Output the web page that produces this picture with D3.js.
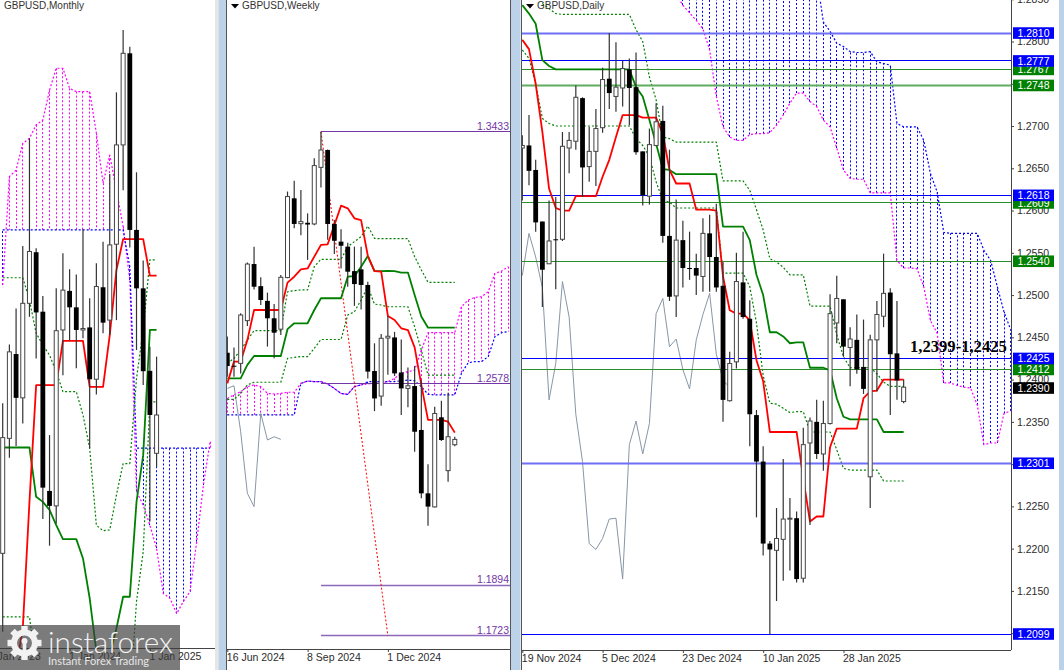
<!DOCTYPE html>
<html>
<head>
<meta charset="utf-8">
<script src="https://d3js.org/d3.v7.min.js"></script>
<style>
  html, body { margin: 0; padding: 0; background: #fff; }
  svg { display: block; }
  text { font-family: "Liberation Sans", Arial, sans-serif; }
</style>
</head>
<body>
<svg id="chart" width="1064" height="670"></svg>
<script>
// open, high, low, close per bar
var monthlyBars = [
  [1.2016,1.2427,1.1801,1.2333],[1.2331,1.2588,1.2278,1.2568],[1.2562,1.2687,1.2310,1.2442],[1.2442,1.2858,1.2372,1.2701],
  [1.2701,1.3153,1.2664,1.2843],[1.2841,1.2852,1.2550,1.2676],[1.2678,1.2721,1.2110,1.2196],[1.2187,1.2340,1.2037,1.2146],
  [1.2146,1.2742,1.2098,1.2626],[1.2628,1.2838,1.2504,1.2737],[1.2735,1.2794,1.2600,1.2690],[1.2690,1.2780,1.2523,1.2628],
  [1.2628,1.2904,1.2605,1.2632],[1.2635,1.2715,1.2304,1.2493],[1.2493,1.2811,1.2451,1.2747],[1.2745,1.2870,1.2619,1.2648],
  [1.2655,1.3055,1.2614,1.2861],[1.2863,1.3279,1.2655,1.3135],[1.3135,1.3450,1.3011,1.3386],[1.3386,1.3404,1.2854,1.2902],
  [1.2902,1.3060,1.2573,1.2742],[1.2742,1.2818,1.2477,1.2515],[1.2516,1.2582,1.2103,1.2395],[1.2290,1.2555,1.2253,1.2395]
];
var monthlyTenkan = [null,null,1.1701,1.1810,1.2157,1.2477,1.2477,1.2477,1.2477,1.2598,1.2598,1.2598,1.2598,1.2472,1.2472,1.2472,1.2614,1.2792,1.2877,1.2877,1.2877,1.2877,1.2777,1.2777];
var monthlyKijun = [1.2306,1.2306,1.2306,1.2306,1.2306,1.2171,1.2157,1.2135,1.2093,1.2055,1.2055,1.2055,1.2002,1.1893,1.1747,1.1692,1.1737,1.1810,1.1897,1.1897,1.2157,1.2285,1.2628,1.2628];
var monthlyDashA = [1.2771,1.2771,1.2771,1.2771,1.2710,1.2619,1.2587,1.2559,1.2514,1.2459,1.2459,1.2459,1.2395,1.2304,1.2093,1.2078,1.2080,1.2176,1.2262,1.2262,1.2495,1.2628,1.2820,1.2820];
var monthlyDashB = [1.1842,1.1842,1.1842,1.1842,1.1842,1.1700,null,null,null,null,null,null,null,null,null,null,null,null,null,1.1610,1.1884,1.2020,1.2431,1.2431];
var monthlyCloudA = [1.2751,1.3048,1.3066,1.3139,1.3153,1.3190,1.3203,1.3285,1.3345,1.3345,1.3290,1.3281,1.3281,1.3281,1.3167,1.3030,1.3107,1.3011,1.2911,1.2765,1.2185,1.2148,1.2093,1.2030,1.1906,1.1893,1.1851,1.1884,1.1911,1.2048,1.2203,1.2322];
var monthlyCloudB = [1.2902,1.2902,1.2902,1.2902,1.2902,1.2902,1.2902,1.2902,1.2902,1.2902,1.2902,1.2902,1.2902,1.2902,1.2902,1.2902,1.2902,1.2902,1.2902,1.2801,1.2304,1.2304,1.2304,1.2304,1.2304,1.2304,1.2304,1.2304,1.2304,1.2304,1.2304,1.2304];
var monthlyTicks = [-2, 10, 22];
var monthlyTickLabels = ["1 Jan 2023", "1 Jan 2024", "1 Jan 2025"];

var weeklyBars = [
  [1.2683,1.2738,1.2602,1.2638],[1.2639,1.2701,1.2602,1.2636],[1.2647,1.2817,1.2613,1.2811],[1.2792,1.2989,1.2774,1.2984],
  [1.2984,1.3043,1.2898,1.2907],[1.2909,1.2939,1.2845,1.2862],[1.2859,1.2887,1.2704,1.2800],[1.2800,1.2848,1.2664,1.2751],
  [1.2763,1.2947,1.2743,1.2939],[1.2938,1.3230,1.2936,1.3213],[1.3207,1.3267,1.3105,1.3120],[1.3121,1.3235,1.3082,1.3128],
  [1.3124,1.3156,1.2998,1.3118],[1.3120,1.3343,1.3116,1.3318],[1.3312,1.3433,1.3244,1.3371],[1.3371,1.3373,1.3066,1.3120],
  [1.3120,1.3133,1.3018,1.3063],[1.3060,1.3102,1.2969,1.3046],[1.3043,1.3056,1.2907,1.2958],[1.2960,1.3043,1.2842,1.2916],
  [1.2966,1.3043,1.2830,1.2913],[1.2913,1.2924,1.2596,1.2619],[1.2621,1.2715,1.2485,1.2528],[1.2536,1.2747,1.2503,1.2732],
  [1.2733,1.2808,1.2608,1.2739],[1.2735,1.2754,1.2604,1.2613],[1.2616,1.2728,1.2472,1.2562],[1.2562,1.2633,1.2498,1.2571],
  [1.2570,1.2638,1.2347,1.2415],[1.2421,1.2590,1.2189,1.2206],[1.2206,1.2305,1.2096,1.2161],[1.2160,1.2500,1.2158,1.2477],
  [1.2464,1.2520,1.2384,1.2387],[1.2283,1.2547,1.2245,1.2398],[1.2371,1.2398,1.2366,1.2389]
];
var weeklyTenkan = [1.2579,1.2653,1.2653,1.2726,1.2828,1.2828,1.2828,1.2828,1.2828,1.2921,1.2941,1.2966,1.2969,1.3009,1.3049,1.3051,1.3116,1.3182,1.3173,1.3139,1.3133,1.3012,1.2960,1.2958,1.2808,1.2794,1.2766,1.2760,1.2701,1.2574,1.2455,1.2455,1.2455,1.2449,1.2412];
var weeklyKijun = [1.2596,1.2596,1.2596,1.2642,1.2672,1.2672,1.2672,1.2672,1.2672,1.2763,1.2783,1.2783,1.2783,1.2828,1.2868,1.2868,1.2868,1.2868,1.2941,1.2943,1.2975,1.3011,1.2960,1.2960,1.2961,1.2960,1.2955,1.2955,1.2879,1.2806,1.2768,1.2768,1.2768,1.2768,1.2768];
var weeklyDashA = [1.2647,1.2664,1.2692,1.2726,1.2758,1.2758,1.2758,1.2758,1.2758,1.2890,1.2894,1.2896,1.2896,1.2975,1.3000,1.3000,1.3000,1.3000,1.3043,1.3060,1.3077,1.3113,1.3071,1.3070,1.3070,1.3070,1.3070,1.3070,1.3009,1.2964,1.2922,1.2922,1.2922,1.2922,1.2922];
var weeklyDashB = [1.2525,1.2525,1.2545,1.2574,1.2583,1.2583,1.2583,1.2583,1.2583,1.2664,1.2667,1.2670,1.2670,1.2698,1.2728,1.2728,1.2728,1.2728,1.2811,1.2822,1.2862,1.2907,1.2848,1.2845,1.2839,1.2839,1.2839,1.2839,1.2771,1.2692,1.2607,1.2607,1.2607,1.2607,1.2607];
var weeklyCloudA = [1.2528,1.2540,1.2551,1.2568,1.2574,1.2568,1.2545,1.2543,1.2545,1.2549,1.2549,1.2579,1.2587,1.2585,1.2585,1.2577,1.2562,1.2545,1.2542,1.2568,1.2574,1.2577,1.2579,1.2581,1.2585,1.2596,1.2613,1.2619,1.2624,1.2692,1.2751,1.2751,1.2751,1.2751,1.2751,1.2839,1.2862,1.2871,1.2873,1.2890,1.2952,1.2960,1.2975];
var weeklyCloudB = [1.2472,1.2472,1.2472,1.2472,1.2472,1.2472,1.2472,1.2472,1.2472,1.2472,1.2472,1.2579,1.2587,1.2585,1.2585,1.2577,1.2562,1.2545,1.2542,1.2568,1.2574,1.2585,1.2585,1.2585,1.2585,1.2585,1.2588,1.2590,1.2588,1.2568,1.2542,1.2540,1.2540,1.2540,1.2540,1.2613,1.2649,1.2653,1.2653,1.2670,1.2738,1.2751,1.2755];
var weeklyLevels = [1.3433, 1.2578, 1.1894, 1.1723];
var weeklyDrop = [1.3433, 1.1723];
var weeklyTicks = [0, 12, 24];
var weeklyTickLabels = ["16 Jun 2024", "8 Sep 2024", "1 Dec 2024"];

var dailyBars = [
  [1.2674,1.2689,1.2612,1.2677],[1.2677,1.2713,1.2630,1.2647],[1.2648,1.2660,1.2575,1.2586],[1.2587,1.2587,1.2486,1.2530],
  [1.2537,1.2612,1.2537,1.2564],[1.2566,1.2616,1.2507,1.2565],[1.2566,1.2693,1.2564,1.2676],[1.2674,1.2693,1.2644,1.2683],
  [1.2682,1.2748,1.2672,1.2734],[1.2733,1.2734,1.2616,1.2651],[1.2652,1.2699,1.2634,1.2670],[1.2670,1.2720,1.2629,1.2697],
  [1.2698,1.2769,1.2692,1.2755],[1.2756,1.2810,1.2720,1.2739],[1.2735,1.2799,1.2717,1.2746],[1.2745,1.2777,1.2723,1.2768],
  [1.2767,1.2780,1.2701,1.2745],[1.2746,1.2787,1.2666,1.2669],[1.2670,1.2670,1.2606,1.2618],[1.2617,1.2697,1.2607,1.2678],
  [1.2677,1.2727,1.2676,1.2705],[1.2706,1.2724,1.2562,1.2570],[1.2570,1.2672,1.2493,1.2498],[1.2499,1.2613,1.2474,1.2565],
  [1.2565,1.2588,1.2509,1.2532],[1.2532,1.2575,1.2518,1.2531],[1.2532,1.2549,1.2500,1.2523],[1.2522,1.2591,1.2504,1.2573],
  [1.2573,1.2595,1.2504,1.2545],[1.2545,1.2608,1.2504,1.2509],[1.2511,1.2539,1.2350,1.2376],[1.2375,1.2433,1.2374,1.2419],
  [1.2421,1.2550,1.2413,1.2516],[1.2515,1.2575,1.2472,1.2474],[1.2472,1.2494,1.2321,1.2359],[1.2358,1.2364,1.2237,1.2303],
  [1.2303,1.2321,1.2192,1.2206],[1.2206,1.2209,1.2099,1.2199],[1.2198,1.2248,1.2138,1.2212],[1.2211,1.2306,1.2162,1.2235],
  [1.2236,1.2260,1.2174,1.2236],[1.2236,1.2244,1.2160,1.2164],[1.2165,1.2343,1.2160,1.2323],[1.2325,1.2355,1.2228,1.2351],
  [1.2350,1.2376,1.2306,1.2312],[1.2312,1.2375,1.2292,1.2348],[1.2348,1.2501,1.2347,1.2478],[1.2467,1.2523,1.2443,1.2496],
  [1.2495,1.2495,1.2427,1.2439],[1.2438,1.2462,1.2392,1.2448],[1.2447,1.2477,1.2407,1.2412],[1.2415,1.2471,1.2383,1.2389],
  [1.2285,1.2453,1.2248,1.2447],[1.2447,1.2493,1.2386,1.2477],[1.2475,1.2549,1.2462,1.2502],[1.2503,1.2508,1.2358,1.2430],
  [1.2431,1.2493,1.2376,1.2399],[1.2374,1.2400,1.2372,1.2391]
];
var dailyTenkan = [1.2802,1.2791,1.2750,1.2693,1.2626,1.2603,1.2600,1.2600,1.2617,1.2617,1.2617,1.2617,1.2640,1.2660,1.2687,1.2713,1.2713,1.2713,1.2710,1.2710,1.2710,1.2691,1.2648,1.2632,1.2632,1.2632,1.2601,1.2601,1.2601,1.2600,1.2522,1.2482,1.2478,1.2478,1.2470,1.2423,1.2398,1.2338,1.2338,1.2338,1.2338,1.2338,1.2283,1.2232,1.2238,1.2238,1.2320,1.2342,1.2342,1.2342,1.2342,1.2378,1.2386,1.2387,1.2400,1.2400,1.2400,1.2400];
var dailyKijun = [1.2843,1.2833,1.2821,1.2778,1.2771,1.2767,1.2767,1.2767,1.2767,1.2767,1.2767,1.2767,1.2767,1.2767,1.2767,1.2767,1.2767,1.2746,1.2735,1.2707,1.2679,1.2649,1.2648,1.2643,1.2643,1.2643,1.2643,1.2643,1.2643,1.2643,1.2581,1.2581,1.2581,1.2581,1.2565,1.2524,1.2500,1.2456,1.2456,1.2451,1.2443,1.2444,1.2444,1.2414,1.2414,1.2414,1.2411,1.2378,1.2356,1.2353,1.2353,1.2353,1.2353,1.2353,1.2338,1.2338,1.2338,1.2338];
var dailyDashA = [null,null,null,1.2845,1.2839,1.2833,1.2832,1.2832,1.2832,1.2832,1.2832,1.2832,1.2832,1.2832,1.2832,1.2832,1.2832,1.2814,1.2800,1.2758,1.2731,1.2687,1.2685,1.2681,1.2681,1.2681,1.2681,1.2681,1.2681,1.2681,1.2635,1.2635,1.2635,1.2635,1.2624,1.2601,1.2577,1.2543,1.2539,1.2533,1.2524,1.2524,1.2524,1.2487,1.2487,1.2487,1.2487,1.2453,1.2427,1.2414,1.2414,1.2414,1.2414,1.2407,1.2397,1.2392,1.2392,1.2392];
var dailyDashB = [1.2790,1.2780,1.2750,1.2709,1.2703,1.2700,1.2700,1.2700,1.2700,1.2700,1.2700,1.2700,1.2700,1.2700,1.2700,1.2700,1.2700,1.2685,1.2677,1.2664,1.2634,1.2612,1.2610,1.2603,1.2603,1.2603,1.2603,1.2603,1.2603,1.2603,1.2526,1.2526,1.2526,1.2526,1.2510,1.2467,1.2405,1.2372,1.2371,1.2366,1.2361,1.2362,1.2362,1.2338,1.2338,1.2338,1.2338,1.2317,1.2295,1.2293,1.2293,1.2293,1.2293,1.2293,1.2280,1.2280,1.2280,1.2280];
var dailyCloudA = [null,null,null,null,null,null,null,null,null,null,null,null,null,null,null,null,null,null,null,null,null,null,null,1.2855,1.2843,1.2834,1.2825,1.2815,1.2790,1.2735,1.2699,1.2687,1.2683,1.2683,1.2690,1.2691,1.2691,1.2692,1.2701,1.2713,1.2727,1.2739,1.2739,1.2729,1.2723,1.2707,1.2699,1.2674,1.2648,1.2638,1.2637,1.2637,1.2621,1.2621,1.2621,1.2621,1.2541,1.2532,1.2532,1.2531,1.2510,1.2470,1.2455,1.2396,1.2396,1.2393,1.2391,1.2390,1.2370,1.2323,1.2325,1.2325,1.2360,1.2363];
var dailyCloudB = [null,null,null,null,null,null,null,null,null,null,null,null,null,null,null,null,null,null,null,null,null,null,null,1.2900,1.2900,1.2900,1.2900,1.2900,1.2900,1.2900,1.2900,1.2900,1.2900,1.2900,1.2900,1.2900,1.2900,1.2900,1.2900,1.2900,1.2900,1.2900,1.2900,1.2900,1.2877,1.2823,1.2812,1.2798,1.2794,1.2788,1.2787,1.2787,1.2788,1.2776,1.2774,1.2772,1.2703,1.2699,1.2699,1.2699,1.2683,1.2644,1.2622,1.2574,1.2573,1.2573,1.2573,1.2573,1.2573,1.2553,1.2541,1.2510,1.2480,1.2459];
var dailyBlueLevels = [1.2810, 1.2777, 1.2618, 1.2425, 1.2301, 1.2099];
var dailyThickLevels = [1.2810, 1.2748, 1.2301];
var dailyGreenLevels = [1.2767, 1.2748, 1.2609, 1.2540, 1.2412];
var dailyPriceLabel = 1.2390;
var dailyPriceTicks = [1.2850,1.2800,1.2750,1.2700,1.2650,1.2600,1.2550,1.2500,1.2450,1.2400,1.2350,1.2300,1.2250,1.2200,1.2150,1.2100];
var dailyTicks = [0, 12, 24, 36, 48];
var dailyTickLabels = ["19 Nov 2024", "5 Dec 2024", "23 Dec 2024", "10 Jan 2025", "28 Jan 2025"];

var svg = d3.select("#chart");

var colorRed = "#ff0000",
    colorGreen = "#008000",
    colorBlue = "#0000ff",
    colorMagenta = "#ff00ff",
    colorGray = "#8896a6",
    colorPurple = "#7236a6",
    colorFrame = "#bcd2e8",
    colorText = "#2c2c2c";

// panel scales, bar index on x and price on y
var monthlyX = d3.scaleLinear().domain([0, 31]).range([2.7, 210.1]);
var monthlyY = d3.scaleLinear().domain([1.3532, 1.2395]).range([0, 415]);
var weeklyX = d3.scaleLinear().domain([0, 42]).range([227.3, 508.3]);
var weeklyY = d3.scaleLinear().domain([1.3433, 1.1723]).range([131.7, 635.7]);
var dailyX = d3.scaleLinear().domain([0, 73]).range([522.3, 1010.7]);
var dailyY = d3.scaleLinear().domain([1.28, 1.2099]).range([41.5, 634]);

// keep thin straight lines on a pixel so they stay crisp
function crisp(v){
  return Math.round(v - 0.5) + 0.5;
}

function addPanel(id, left, right, bottom){
  svg.append("clipPath").attr("id", id)
    .append("rect").attr("x", left).attr("y", 0).attr("width", right - left).attr("height", bottom);
  return svg.append("g").attr("clip-path", "url(#" + id + ")");
}

function drawSeries(g, values, x, y, color, width, dash){
  var line = d3.line()
    .defined(function(d){ return d !== null; })
    .x(function(d, i){ return x(i); })
    .y(function(d){ return y(d); });
  g.append("path")
    .attr("fill", "none")
    .attr("stroke", color)
    .attr("stroke-width", width)
    .attr("stroke-dasharray", dash || null)
    .attr("stroke-linejoin", "round")
    .attr("d", line(values));
}

function drawCloud(g, a, b, x, y){
  a.forEach(function(d, i){
    if (d === null || b[i] === null) return;
    g.append("line")
      .attr("x1", crisp(x(i))).attr("x2", crisp(x(i)))
      .attr("y1", y(d)).attr("y2", y(b[i]))
      .attr("stroke", d > b[i] ? colorMagenta : colorBlue)
      .attr("stroke-width", 1)
      .attr("stroke-dasharray", "2 2");
  });
  drawSeries(g, a, x, y, colorMagenta, 1.2, "2 2");
  drawSeries(g, b, x, y, colorBlue, 1.2, "2 2");
}

function drawCandles(g, bars, x, y){
  var candle = g.selectAll("g.candle").data(bars).enter().append("g").attr("class", "candle");
  candle.append("line")
    .attr("x1", function(d, i){ return x(i); })
    .attr("x2", function(d, i){ return x(i); })
    .attr("y1", function(d){ return y(d[1]); })
    .attr("y2", function(d){ return y(d[2]); })
    .attr("stroke", "#333")
    .attr("stroke-width", 1.2);
  candle.append("rect")
    .attr("x", function(d, i){ return x(i) - (d[3] >= d[0] ? 2 : 2.4); })
    .attr("width", function(d){ return d[3] >= d[0] ? 4 : 4.8; })
    .attr("y", function(d){ return y(Math.max(d[0], d[3])); })
    .attr("height", function(d){ return Math.max(1, Math.abs(y(d[0]) - y(d[3]))); })
    .attr("fill", function(d){ return d[3] >= d[0] ? "#fff" : "#000"; })
    .attr("stroke", function(d){ return d[3] >= d[0] ? "#444" : "none"; })
    .attr("stroke-width", 1);
}

function drawTimeAxis(x, axisY, left, right, ticks, labels){
  svg.append("line")
    .attr("x1", left).attr("x2", right).attr("y1", axisY + 0.5).attr("y2", axisY + 0.5)
    .attr("stroke", "#444").attr("stroke-width", 1);
  var axis = d3.axisBottom(x)
    .tickValues(ticks)
    .tickSizeOuter(0)
    .tickSize(3)
    .tickFormat(function(d, i){ return labels[i]; });
  var g = svg.append("g")
    .attr("transform", "translate(0," + axisY + ")")
    .call(axis);
  g.select(".domain").remove();
  g.selectAll("line").attr("stroke", "#444");
  g.selectAll("text")
    .attr("text-anchor", "start")
    .attr("x", -1)
    .attr("y", 5)
    .attr("font-family", "Liberation Sans")
    .attr("font-size", 10.5)
    .attr("fill", colorText);
}

function drawTitle(label, textX, triangle){
  svg.append("text")
    .attr("x", textX).attr("y", 9)
    .attr("font-size", 10)
    .attr("fill", "#333")
    .text(label);
  if (triangle){
    svg.append("path")
      .attr("d", "M" + (textX - 11) + " 4 h8 l-4 4.5 z")
      .attr("fill", "#000");
  }
}

// monthly
var monthly = addPanel("clip-monthly", 0, 215, 648);
drawCloud(monthly, monthlyCloudA, monthlyCloudB, monthlyX, monthlyY);
drawSeries(monthly, monthlyDashA, monthlyX, monthlyY, colorGreen, 1.2, "2 2");
drawSeries(monthly, monthlyDashB, monthlyX, monthlyY, colorGreen, 1.2, "2 2");
drawSeries(monthly, monthlyKijun, monthlyX, monthlyY, colorGreen, 1.8);
drawSeries(monthly, monthlyTenkan, monthlyX, monthlyY, colorRed, 1.8);
drawCandles(monthly, monthlyBars, monthlyX, monthlyY);

// weekly
var weekly = addPanel("clip-weekly", 227, 510, 649);
drawCloud(weekly, weeklyCloudA, weeklyCloudB, weeklyX, weeklyY);
drawSeries(weekly, weeklyBars.slice(26).map(function(d){ return d[3]; }), weeklyX, weeklyY, colorGray, 1);
drawSeries(weekly, weeklyDashA, weeklyX, weeklyY, colorGreen, 1.2, "2 2");
drawSeries(weekly, weeklyDashB, weeklyX, weeklyY, colorGreen, 1.2, "2 2");
weeklyLevels.forEach(function(d, i){
  weekly.append("line")
    .attr("x1", weeklyX(14)).attr("x2", 510)
    .attr("y1", crisp(weeklyY(d))).attr("y2", crisp(weeklyY(d)))
    .attr("stroke", i < 2 ? colorPurple : "#8d68bb")
    .attr("stroke-width", i < 2 ? 1 : 1.6);
  weekly.append("text")
    .attr("x", 509).attr("y", weeklyY(d) - 2)
    .attr("text-anchor", "end")
    .attr("font-size", 10.5)
    .attr("fill", colorPurple)
    .text(d3.format(".4f")(d));
});
weekly.append("line")
  .attr("x1", weeklyX(14)).attr("x2", weeklyX(24))
  .attr("y1", weeklyY(weeklyDrop[0])).attr("y2", weeklyY(weeklyDrop[1]))
  .attr("stroke", colorRed).attr("stroke-width", 1).attr("stroke-dasharray", "2 2");
drawSeries(weekly, weeklyKijun, weeklyX, weeklyY, colorGreen, 1.8);
drawSeries(weekly, weeklyTenkan, weeklyX, weeklyY, colorRed, 1.8);
drawCandles(weekly, weeklyBars, weeklyX, weeklyY);

// daily
var daily = addPanel("clip-daily", 522, 1011, 650);
drawCloud(daily, dailyCloudA, dailyCloudB, dailyX, dailyY);
drawSeries(daily, dailyBars.slice(26).map(function(d){ return d[3]; }), dailyX, dailyY, colorGray, 1);
drawSeries(daily, dailyDashA, dailyX, dailyY, colorGreen, 1.2, "2 2");
drawSeries(daily, dailyDashB, dailyX, dailyY, colorGreen, 1.2, "2 2");
dailyGreenLevels.concat(dailyBlueLevels).forEach(function(d){
  var thick = dailyThickLevels.indexOf(d) >= 0;
  var blue = dailyBlueLevels.indexOf(d) >= 0;
  daily.append("line")
    .attr("x1", 522).attr("x2", 1011)
    .attr("y1", crisp(dailyY(d))).attr("y2", crisp(dailyY(d)))
    .attr("stroke", blue ? (thick ? "#6f6ff5" : colorBlue) : (thick ? "#5fae5f" : "#2a8f2a"))
    .attr("stroke-width", thick ? 1.8 : 1);
});
drawSeries(daily, dailyKijun, dailyX, dailyY, colorGreen, 1.8);
drawSeries(daily, dailyTenkan, dailyX, dailyY, colorRed, 1.8);
drawCandles(daily, dailyBars, dailyX, dailyY);

svg.append("text")
  .attr("x", 910).attr("y", 352)
  .attr("font-weight", "bold")
  .attr("font-size", 16.6)
  .attr("fill", "#000")
  .style("font-family", "'Liberation Serif', serif")
  .text("1,2399-1,2425");

// price axis on the daily panel
svg.append("line")
  .attr("x1", 1011.5).attr("x2", 1011.5).attr("y1", 0).attr("y2", 650)
  .attr("stroke", "#444");
var priceAxis = svg.append("g")
  .attr("transform", "translate(1011,0)")
  .call(d3.axisRight(dailyY).tickValues(dailyPriceTicks).tickSize(3).tickFormat(d3.format(".4f")));
priceAxis.select(".domain").remove();
priceAxis.selectAll("line").attr("stroke", "#444");
priceAxis.selectAll("text")
  .attr("x", 6)
  .attr("font-family", "Liberation Sans")
  .attr("font-size", 10.5)
  .attr("fill", colorText);

function drawPriceTag(value, color){
  svg.append("rect")
    .attr("x", 1013).attr("width", 41)
    .attr("y", dailyY(value) - 5.8).attr("height", 11.6)
    .attr("fill", color);
  svg.append("text")
    .attr("x", 1033.5).attr("y", dailyY(value) + 4)
    .attr("text-anchor", "middle")
    .attr("font-size", 10.5)
    .attr("fill", "#fff")
    .text(d3.format(".4f")(value));
}
dailyGreenLevels.forEach(function(d){ drawPriceTag(d, colorGreen); });
dailyBlueLevels.forEach(function(d){ drawPriceTag(d, colorBlue); });
drawPriceTag(dailyPriceLabel, "#000");

// window frames between the panels
svg.append("rect").attr("x", 215).attr("y", 0).attr("width", 3.5).attr("height", 670).attr("fill", "#e6e6e6");
svg.append("rect").attr("x", 218.5).attr("y", 0).attr("width", 7.5).attr("height", 670).attr("fill", colorFrame);
svg.append("rect").attr("x", 511).attr("y", 0).attr("width", 9.5).attr("height", 670).attr("fill", colorFrame);
svg.append("rect").attr("x", 1059).attr("y", 0).attr("width", 5).attr("height", 670).attr("fill", colorFrame);
[226.5, 510.5, 521.5].forEach(function(d){
  svg.append("line").attr("x1", d).attr("x2", d).attr("y1", 0).attr("y2", 670).attr("stroke", "#555");
});

drawTimeAxis(monthlyX, 648, 0, 215, monthlyTicks, monthlyTickLabels);
drawTimeAxis(weeklyX, 649, 227, 510, weeklyTicks, weeklyTickLabels);
drawTimeAxis(dailyX, 650, 522, 1011, dailyTicks, dailyTickLabels);

drawTitle("GBPUSD,Monthly", 4, false);
drawTitle("GBPUSD,Weekly", 242, true);
drawTitle("GBPUSD,Daily", 537, true);

// broker watermark, bottom left
var mark = svg.append("g");
mark.append("rect")
  .attr("x", 0).attr("y", 625).attr("width", 180).attr("height", 45)
  .attr("fill", "#3c3c3c").attr("fill-opacity", 0.68);
var gear = mark.append("g").attr("transform", "translate(24.5,643)").attr("fill", "#f2f2f2");
d3.range(8).forEach(function(i){
  gear.append("rect")
    .attr("x", -3.2).attr("y", -17).attr("width", 6.4).attr("height", 7)
    .attr("transform", "rotate(" + (i * 45) + ")");
});
gear.append("path")
  .attr("d", d3.arc()({ innerRadius: 7.5, outerRadius: 13.5, startAngle: 0, endAngle: 2 * Math.PI }));
gear.append("circle").attr("cx", 0).attr("cy", -2).attr("r", 3);
gear.append("rect").attr("x", -1.8).attr("y", 0).attr("width", 3.6).attr("height", 12);
mark.append("text")
  .attr("x", 48).attr("y", 653)
  .attr("font-size", 30)
  .attr("fill", "#f2f2f2")
  .attr("textLength", 125)
  .attr("lengthAdjust", "spacingAndGlyphs")
  .style("font-family", "Lato, 'Open Sans', sans-serif")
  .style("font-weight", 300)
  .text("instaforex");
mark.append("text")
  .attr("x", 48).attr("y", 665)
  .attr("font-size", 11)
  .attr("fill", "#e6e6e6")
  .attr("textLength", 101)
  .style("font-family", "Lato, 'Open Sans', sans-serif")
  .text("Instant Forex Trading");
</script>
</body>
</html>
